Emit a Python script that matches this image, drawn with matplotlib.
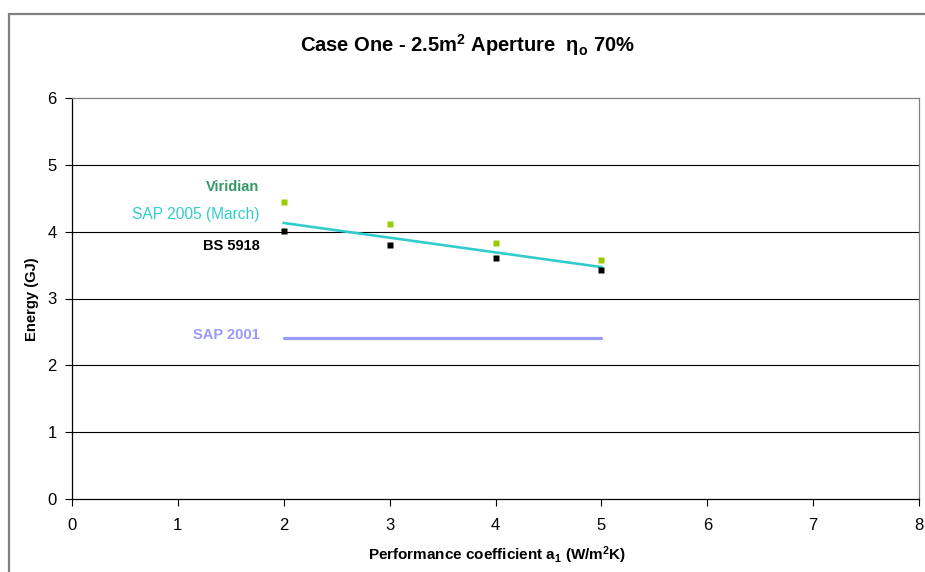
import matplotlib

matplotlib.use("Agg")
import matplotlib.pyplot as plt
from matplotlib.patches import Rectangle

plt.rcParams["font.family"] = ["Liberation Sans", "DejaVu Sans"]
plt.rcParams["mathtext.fontset"] = "custom"
plt.rcParams["mathtext.rm"] = "Liberation Sans"
plt.rcParams["mathtext.it"] = "Liberation Sans:italic"
plt.rcParams["mathtext.bf"] = "Liberation Sans:bold"

# performance coefficient a1 (W/m2K)
coeff = [2, 3, 4, 5]
bs5918 = [4.01, 3.80, 3.61, 3.43]
viridian = [4.44, 4.11, 3.83, 3.58]
sap2005 = [4.13, 3.91, 3.69, 3.47]
sap2001 = [2.41, 2.41, 2.41, 2.41]

GRID = "#000000"
FRAME = "#808080"

fig = plt.figure(figsize=(9.25, 5.72), dpi=100)
fig.patch.set_facecolor("white")
ax = fig.add_axes([72 / 925, 1 - 499 / 572, 847 / 925, 401 / 572])

ax.plot(coeff, sap2001, color="#9999ff", lw=2.3, solid_capstyle="round", zorder=3)
ax.plot(coeff, sap2005, color="#33cccc", lw=1.9, zorder=4)
ax.plot(coeff, viridian, "s", color="#99cc00", ms=5, mec="none", zorder=5)
ax.plot(coeff, bs5918, "s", color="#000000", ms=5, mec="none", zorder=5)

ax.set_xlim(0, 8)
ax.set_ylim(0, 6)
ax.set_xticks(range(0, 9))
ax.set_yticks(range(0, 7))
ax.tick_params(direction="out", length=5, width=0.8, labelsize=12, colors="#000000")
ax.tick_params(axis="x", pad=9)
ax.tick_params(axis="y", pad=6)
for yv in range(1, 6):
    ax.axhline(yv, color=GRID, lw=0.8, zorder=1)

ax.spines["left"].set_color("#000000")
ax.spines["bottom"].set_color("#000000")
ax.spines["top"].set_color(FRAME)
ax.spines["right"].set_color(FRAME)
for sp in ax.spines.values():
    sp.set_linewidth(0.9)

# series labels placed beside the data
lx = 1.77
lab = dict(fontsize=10.5, fontweight="bold", ha="right", va="center")
ax.text(lx, 4.67, "Viridian", color="#339966", **lab)
ax.text(lx, 4.26, "SAP 2005 (March)", color="#33cccc", fontsize=11.2, ha="right", va="center")
ax.text(lx, 3.79, "BS 5918", color="#000000", **lab)
ax.text(lx, 2.45, "SAP 2001", color="#9999ff", **lab)

fig.text(467 / 925, 1 - 45 / 572, r"Case One - 2.5m$^{\mathbf{2}}$ Aperture  $\mathbf{\eta_o}$ 70%",
         ha="center", va="center", fontsize=14.5, fontweight="bold")
fig.text(32 / 925, 1 - 299 / 572, "Energy (GJ)", rotation=90, ha="center", va="center",
         fontsize=10.6, fontweight="bold")
fig.text(497 / 925, 1 - 555 / 572, r"Performance coefficient a$_{\mathbf{1}}$ (W/m$^{\mathbf{2}}$K)",
         ha="center", va="center", fontsize=11, fontweight="bold")

fig.add_artist(Rectangle((9 / 925, -0.1), 1.2, 0.1 + 1 - 14 / 572, transform=fig.transFigure,
                         fill=False, edgecolor=FRAME, lw=1.6))

fig.savefig("out.png", dpi=100)
